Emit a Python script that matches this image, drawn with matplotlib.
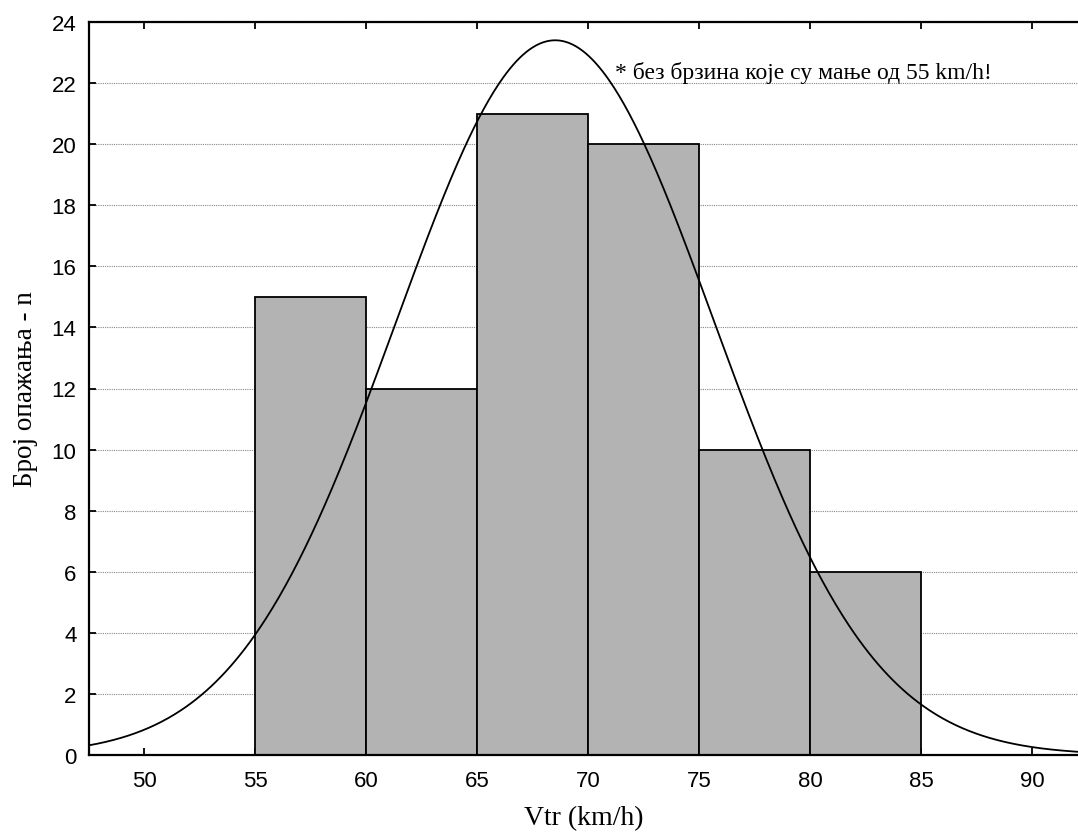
import numpy as np
import matplotlib
matplotlib.use("Agg")
import matplotlib.pyplot as plt

# Data
bin_edges = [55, 60, 65, 70, 75, 80, 85]
counts = [15, 12, 21, 20, 10, 6]
fit_mean = 68.5
fit_sd = 7.16
n_total = sum(counts)
bin_width = 5
x_ticks = [50, 55, 60, 65, 70, 75, 80, 85, 90]
y_ticks = [0, 2, 4, 6, 8, 10, 12, 14, 16, 18, 20, 22, 24]
xlabel = "Vtr (km/h)"
ylabel = "Број опажања - n"
note = "* без брзина које су мање од 55 km/h!"

fig = plt.figure(figsize=(10.78, 8.37), dpi=100)
W, H = 1078, 837
ax = fig.add_axes([89 / W, 1 - 756 / H, (1078 - 89) / W, (756 - 23) / H])

xmin, xmax = 47.5, 92.05
ax.set_xlim(xmin, xmax)
ax.set_ylim(0, 24)

lefts = bin_edges[:-1]
ax.bar(lefts, counts, width=bin_width, align="edge", color="#b3b3b3",
       edgecolor="black", linewidth=1.3, zorder=2)

xs = np.linspace(xmin, xmax, 600)
ys = n_total * bin_width / (fit_sd * np.sqrt(2 * np.pi)) * np.exp(-0.5 * ((xs - fit_mean) / fit_sd) ** 2)
ax.plot(xs, ys, color="black", linewidth=1.3, zorder=3, clip_on=False)

ax.set_yticks(y_ticks)
ax.set_xticks(x_ticks)
ax.yaxis.grid(True, linestyle=(0, (1, 1)), color="#888888", linewidth=0.8, zorder=0)
ax.set_axisbelow(True)

for s in ["left", "bottom", "top"]:
    ax.spines[s].set_linewidth(1.6)
ax.spines["right"].set_visible(False)

ax.tick_params(axis="both", direction="in", length=5, width=1.3,
               labelsize=16, top=True, labeltop=False)
for lab in ax.get_xticklabels() + ax.get_yticklabels():
    lab.set_family("Liberation Sans")
ax.tick_params(axis="x", pad=11)
ax.tick_params(axis="y", pad=9)

ax.set_xlabel(xlabel, family="Liberation Serif", fontsize=20, labelpad=10)
ax.set_ylabel(ylabel, family="Liberation Serif", fontsize=19.5, labelpad=10)

ax.text(71.2, 22.17, note, family="Liberation Serif", fontsize=17, zorder=4)

fig.savefig("out.png", dpi=100)
